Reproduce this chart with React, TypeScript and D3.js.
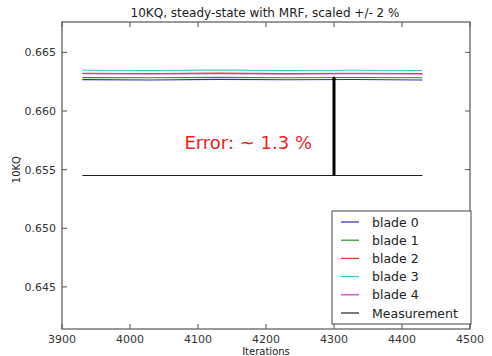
import * as d3 from 'd3';
import * as React from 'react';

// iterations sampled along each blade trace
const iterations = [3930, 4030, 4130, 4230, 4330, 4430];

// 10KQ per blade
const blade0 = [0.66268, 0.66265, 0.66270, 0.66266, 0.66269, 0.66265];
const blade1 = [0.66285, 0.66283, 0.66287, 0.66284, 0.66286, 0.66283];
const blade2 = [0.66322, 0.66320, 0.66323, 0.66319, 0.66322, 0.66320];
const blade3 = [0.66348, 0.66346, 0.66349, 0.66345, 0.66347, 0.66345];
const blade4 = [0.66318, 0.66316, 0.66319, 0.66315, 0.66318, 0.66316];

const bladeNames = ['blade 0', 'blade 1', 'blade 2', 'blade 3', 'blade 4'];
const bladeColors = ['#2b2bd6', '#2e8b2e', '#e03a3a', '#33cccc', '#cc33cc'];
const bladeSeries = [blade0, blade1, blade2, blade3, blade4];

const measurement = 0.6545;
const errorAt = 4300;
const errorTop = 0.6629;

const xTicks = [3900, 4000, 4100, 4200, 4300, 4400, 4500];
const yTicks = [0.645, 0.65, 0.655, 0.66, 0.665];

const width = 492;
const height = 356;
const margin = { top: 22, right: 22, bottom: 27, left: 62 };

export default function App() {
    const innerW = width - margin.left - margin.right;
    const innerH = height - margin.top - margin.bottom;

    const x = d3.scaleLinear().domain([3900, 4500]).range([0, innerW]);
    const y = d3.scaleLinear()
        .domain([measurement * 0.98, measurement * 1.02])
        .range([innerH, 0]);

    const line = d3.line<number>()
        .x((_, i) => x(iterations[i]))
        .y(d => y(d));

    const font = 'DejaVu Sans, sans-serif';
    const axisColor = '#555';
    const tickLen = 5;

    const legendX = 332 - margin.left;
    const legendY = 211 - margin.top;
    const legendRow = 18.2;
    const legendItems = [
        ...bladeNames.map((n, i) => ({ name: n, color: bladeColors[i] })),
        { name: 'Measurement', color: '#222' },
    ];

    return (
        <svg width={width} height={height}
            style={{ position: 'absolute', left: 0, top: 0, background: '#fff' }}>
            <text x={265} y={17} textAnchor="middle" fontFamily={font} fontSize={12} fill="#222">
                10KQ, steady-state with MRF, scaled +/- 2 %
            </text>
            <g transform={`translate(${margin.left},${margin.top})`}>
                {bladeSeries.map((s, i) => (
                    <path key={i} d={line(s) || ''} fill="none" stroke={bladeColors[i]} strokeWidth={1.1} />
                ))}
                <line x1={x(iterations[0])} x2={x(iterations[iterations.length - 1])}
                    y1={y(measurement)} y2={y(measurement)} stroke="#222" strokeWidth={1.2} />
                <line x1={x(errorAt)} x2={x(errorAt)} y1={y(measurement)} y2={y(errorTop) + 2}
                    stroke="#000" strokeWidth={3} />
                <path d={`M${x(errorAt) - 2.5},${y(errorTop) + 3} L${x(errorAt)},${y(errorTop) - 1} L${x(errorAt) + 2.5},${y(errorTop) + 3} Z`}
                    fill="#000" />
                <text x={x(4080)} y={y(0.65672)} fontFamily={font} fontSize={18} fill="#ee1c1c">
                    Error: ~ 1.3 %
                </text>

                {/* frame */}
                <rect x={0} y={0} width={innerW} height={innerH} fill="none" stroke={axisColor} strokeWidth={1.2} />

                {xTicks.map(t => (
                    <g key={t}>
                        <line x1={x(t)} x2={x(t)} y1={innerH} y2={innerH - tickLen} stroke={axisColor} />
                        <line x1={x(t)} x2={x(t)} y1={0} y2={tickLen} stroke={axisColor} />
                        <text x={x(t)} y={innerH + 14} textAnchor="middle" fontFamily={font} fontSize={11} fill="#333">
                            {t}
                        </text>
                    </g>
                ))}
                {yTicks.map(t => (
                    <g key={t}>
                        <line x1={0} x2={tickLen} y1={y(t)} y2={y(t)} stroke={axisColor} />
                        <line x1={innerW} x2={innerW - tickLen} y1={y(t)} y2={y(t)} stroke={axisColor} />
                        <text x={-6} y={y(t) + 4} textAnchor="end" fontFamily={font} fontSize={11} fill="#333">
                            {d3.format('.3f')(t)}
                        </text>
                    </g>
                ))}

                <text x={innerW / 2} y={innerH + 26} textAnchor="middle" fontFamily={font} fontSize={10} fill="#222">
                    Iterations
                </text>
                <text transform={`translate(${-42},${y(0.655)}) rotate(-90)`} textAnchor="middle"
                    fontFamily={font} fontSize={10} fill="#222">
                    10KQ
                </text>

                {/* legend */}
                <rect x={legendX} y={legendY} width={139} height={113} fill="#fff" stroke="#444" strokeWidth={1} />
                {legendItems.map((it, i) => {
                    const cy = legendY + 11 + i * legendRow;
                    return (
                        <g key={it.name}>
                            <line x1={legendX + 9} x2={legendX + 27} y1={cy} y2={cy} stroke={it.color} strokeWidth={1.2} />
                            <text x={legendX + 40} y={cy + 4.5} fontFamily={font} fontSize={12.5} fill="#222">
                                {it.name}
                            </text>
                        </g>
                    );
                })}
            </g>
        </svg>
    );
}
